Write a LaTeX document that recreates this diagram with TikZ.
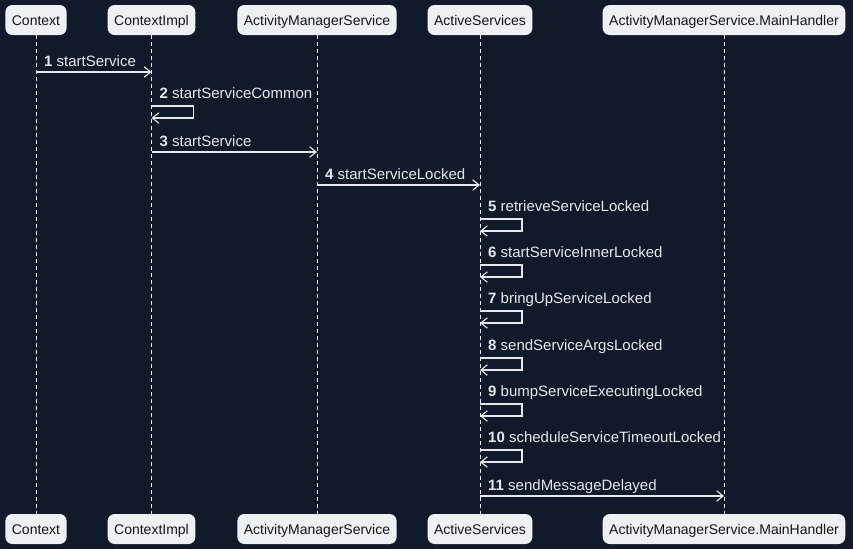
\documentclass[tikz,border=0pt]{standalone}
\usepackage{fontspec}
\setmainfont{Liberation Sans}
\usetikzlibrary{arrows.meta}

\definecolor{bgnavy}{HTML}{111A2B}
\definecolor{boxfill}{HTML}{EEF0F3}
\definecolor{boxtext}{HTML}{151515}
\definecolor{lineclr}{HTML}{E6E8EC}

\begin{document}
\begin{tikzpicture}[x=1pt,y=-1pt]
\tikzset{
  partbox/.style={rectangle,rounded corners=7pt,fill=boxfill,text=boxtext,minimum height=30pt,text height=13pt,text depth=1.5pt,inner xsep=6.5pt,inner ysep=2pt,font=\fontsize{14}{16}\selectfont},
  lifeline/.style={draw=lineclr,line width=0.7pt,dash pattern=on 4pt off 3pt},
  msg/.style={draw=lineclr,line width=1.1pt,-{Straight Barb[length=6.5pt,width=10.5pt,line width=1.1pt]}},
  selfmsg/.style={msg,rounded corners=0pt},
  msglabel/.style={text=lineclr,inner sep=0pt,anchor=base west,font=\fontsize{15}{17}\selectfont}
}
\fill[bgnavy] (0,0) rectangle (853,549);
\useasboundingbox (0,0) rectangle (853,549);
% participants, top row
\node[partbox] (n_ctx_top) at (36,20) {Context};
\node[partbox] (n_impl_top) at (151.5,20) {ContextImpl};
\node[partbox] (n_ams_top) at (317,20) {ActivityManagerService};
\node[partbox] (n_as_top) at (480,20) {ActiveServices};
\node[partbox] (n_mh_top) at (724,20) {ActivityManagerService.MainHandler};
% participants, bottom row
\node[partbox] (n_ctx_bot) at (36,529) {Context};
\node[partbox] (n_impl_bot) at (151.5,529) {ContextImpl};
\node[partbox] (n_ams_bot) at (317,529) {ActivityManagerService};
\node[partbox] (n_as_bot) at (480,529) {ActiveServices};
\node[partbox] (n_mh_bot) at (724,529) {ActivityManagerService.MainHandler};
% lifelines
\draw[lifeline] (n_ctx_top) -- (n_ctx_bot);
\draw[lifeline] (n_impl_top) -- (n_impl_bot);
\draw[lifeline] (n_ams_top) -- (n_ams_bot);
\draw[lifeline] (n_as_top) -- (n_as_bot);
\draw[lifeline] (n_mh_top) -- (n_mh_bot);
% message anchors
\coordinate (m1_a) at (36,72);
\coordinate (m1_b) at (151.5,72);
\coordinate (m2_a) at (151.5,106);
\coordinate (m3_a) at (151.5,152);
\coordinate (m3_b) at (317,152);
\coordinate (m4_a) at (317,185);
\coordinate (m4_b) at (480,185);
\coordinate (m5_a) at (480,219);
\coordinate (m6_a) at (480,265);
\coordinate (m7_a) at (480,311);
\coordinate (m8_a) at (480,358);
\coordinate (m9_a) at (480,404);
\coordinate (m10_a) at (480,450);
\coordinate (m11_a) at (480,496);
\coordinate (m11_b) at (724,496);
% messages
\draw[msg] (m1_a) -- (m1_b);
\node[msglabel] (l_1) at ([xshift=8pt,yshift=6pt]m1_a) {\textbf{1} startService};
\draw[selfmsg] (m2_a) -- ++(42,0) -- ++(0,12) -- ++(-42,0);
\node[msglabel] (l_2) at ([xshift=8pt,yshift=8pt]m2_a) {\textbf{2} startServiceCommon};
\draw[msg] (m3_a) -- (m3_b);
\node[msglabel] (l_3) at ([xshift=8pt,yshift=6pt]m3_a) {\textbf{3} startService};
\draw[msg] (m4_a) -- (m4_b);
\node[msglabel] (l_4) at ([xshift=8pt,yshift=6pt]m4_a) {\textbf{4} startServiceLocked};
\draw[selfmsg] (m5_a) -- ++(42,0) -- ++(0,12) -- ++(-42,0);
\node[msglabel] (l_5) at ([xshift=8pt,yshift=8pt]m5_a) {\textbf{5} retrieveServiceLocked};
\draw[selfmsg] (m6_a) -- ++(42,0) -- ++(0,12) -- ++(-42,0);
\node[msglabel] (l_6) at ([xshift=8pt,yshift=8pt]m6_a) {\textbf{6} startServiceInnerLocked};
\draw[selfmsg] (m7_a) -- ++(42,0) -- ++(0,12) -- ++(-42,0);
\node[msglabel] (l_7) at ([xshift=8pt,yshift=8pt]m7_a) {\textbf{7} bringUpServiceLocked};
\draw[selfmsg] (m8_a) -- ++(42,0) -- ++(0,12) -- ++(-42,0);
\node[msglabel] (l_8) at ([xshift=8pt,yshift=8pt]m8_a) {\textbf{8} sendServiceArgsLocked};
\draw[selfmsg] (m9_a) -- ++(42,0) -- ++(0,12) -- ++(-42,0);
\node[msglabel] (l_9) at ([xshift=8pt,yshift=8pt]m9_a) {\textbf{9} bumpServiceExecutingLocked};
\draw[selfmsg] (m10_a) -- ++(42,0) -- ++(0,12) -- ++(-42,0);
\node[msglabel] (l_10) at ([xshift=8pt,yshift=8pt]m10_a) {\textbf{10} scheduleServiceTimeoutLocked};
\draw[msg] (m11_a) -- (m11_b);
\node[msglabel] (l_11) at ([xshift=8pt,yshift=6pt]m11_a) {\textbf{11} sendMessageDelayed};
\end{tikzpicture}
\end{document}
